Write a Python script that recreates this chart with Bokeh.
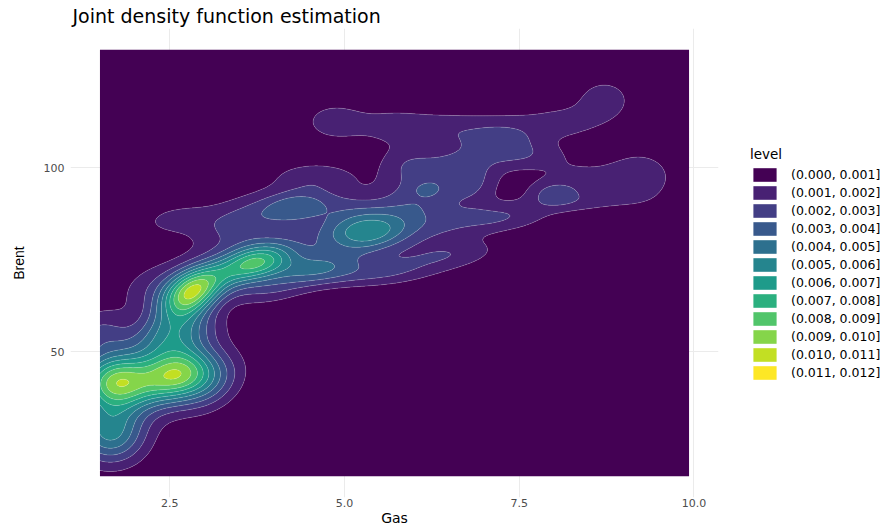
import numpy as np
from bokeh.plotting import figure
from bokeh.layouts import row
from bokeh.models import Legend, LegendItem, FixedTicker, NumeralTickFormatter, Range1d
from bokeh.embed import file_html
from bokeh.resources import INLINE

# ---- data ----
title_text = "Joint density function estimation"
x_label = "Gas"
y_label = "Brent"
x_ticks = [2.5, 5.0, 7.5, 10.0]
y_ticks = [50, 100]

gas_extent = [1.5, 9.93]      # extent of the estimated density grid (Gas)
brent_extent = [16.3, 132.0]  # extent of the estimated density grid (Brent)

level_breaks = [0.000, 0.001, 0.002, 0.003, 0.004, 0.005, 0.006,
                0.007, 0.008, 0.009, 0.010, 0.011, 0.012]
level_labels = ["(0.000, 0.001]", "(0.001, 0.002]", "(0.002, 0.003]",
                "(0.003, 0.004]", "(0.004, 0.005]", "(0.005, 0.006]",
                "(0.006, 0.007]", "(0.007, 0.008]", "(0.008, 0.009]",
                "(0.009, 0.010]", "(0.010, 0.011]", "(0.011, 0.012]"]
level_colors = ["#440154", "#482173", "#433E85", "#38598C", "#2D708E",
                "#25858E", "#1E9B8A", "#2BB07F", "#51C56A", "#85D54A",
                "#C2DF23", "#FDE725"]

# density bumps: centre, spreads, tilt and height
comp_gas = [1.72, 2.62, 2.15, 1.65, 2.55, 1.50, 2.80, 3.30, 3.76, 2.30, 2.60, 3.50,
            3.10, 3.90,
            4.30, 4.60, 5.32, 4.60, 5.55, 6.00, 6.55, 6.18, 6.50, 6.90,
            4.50, 5.00, 5.85, 6.50,
            7.30, 7.50, 7.25, 7.98, 8.40, 9.25, 8.30,
            4.85, 5.65, 6.45, 7.35, 8.20, 8.72]
comp_brent = [42.0, 44.0, 42.0, 28.0, 55.0, 55.0, 66.0, 71.0, 74.5, 68.0, 86.0, 85.0,
              41.0, 66.5,
              89.5, 72.5, 82.6, 97.5, 71.5, 90.0, 99.0, 94.0, 76.5, 95.0,
              80.0, 90.0, 101.5, 84.5,
              86.5, 103.5, 107.5, 93.0, 96.0, 97.5, 90.5,
              112.5, 111.5, 110.5, 110.5, 112.5, 118.5]
comp_sd_gas = [0.35, 0.36, 0.70, 0.35, 0.40, 0.30, 0.30, 0.35, 0.35, 0.40, 0.40, 0.45,
               0.30, 0.40,
               0.35, 0.45, 0.42, 0.45, 0.55, 0.45, 0.45, 0.10, 0.50, 0.22,
               0.60, 0.35, 0.30, 0.45,
               0.45, 0.45, 0.30, 0.25, 0.50, 0.33, 0.60,
               0.30, 0.40, 0.45, 0.45, 0.40, 0.28]
comp_sd_brent = [5.0, 4.8, 7.0, 5.8, 5.0, 4.5, 4.8, 4.0, 3.6, 5.0, 3.2, 5.5,
                 5.0, 3.0,
                 3.2, 3.2, 4.0, 3.0, 2.8, 6.0, 5.5, 1.0, 3.0, 4.5,
                 6.0, 3.0, 3.5, 3.5,
                 2.8, 2.8, 2.2, 2.3, 4.5, 5.0, 2.0,
                 3.5, 3.5, 3.5, 3.5, 3.5, 4.0]
comp_tilt = [0.0, 0.2, 0.3, 0.0, 0.3, 0.0, 0.4, 0.4, 0.3, 0.3, 0.2, 0.4,
             0.3, 0.3,
             0.2, 0.3, 0.1, 0.0, 0.3, 0.2, 0.2, 0.0, 0.3, 0.0,
             0.3, 0.0, 0.0, 0.3,
             0.2, 0.0, 0.0, 0.0, 0.0, 0.0, 0.2,
             0.0, 0.0, 0.0, 0.0, 0.0, 0.0]
comp_height = [0.0068, 0.0070, 0.0030, 0.0050, 0.0045, 0.0020, 0.0088, 0.0028, 0.0062,
               0.0015, 0.0013, 0.0022,
               0.0018, 0.0014,
               0.0030, 0.0032, 0.0048, 0.0016, 0.0019, 0.0022, 0.0020, 0.0008, 0.0017,
               0.0009,
               0.0016, 0.0010, 0.0012, 0.0012,
               0.0017, 0.0017, 0.0010, 0.0016, 0.0013, 0.0016, 0.0008,
               0.0016, 0.0013, 0.0013, 0.0013, 0.0012, 0.0016]

# ---- density grid ----
gx = np.linspace(gas_extent[0], gas_extent[1], 400)
gy = np.linspace(brent_extent[0], brent_extent[1], 400)
X, Y = np.meshgrid(gx, gy)
Z = np.zeros_like(X)
for cx, cy, sx, sy, r, h in zip(comp_gas, comp_brent, comp_sd_gas, comp_sd_brent,
                                comp_tilt, comp_height):
    dx = (X - cx) / sx
    dy = (Y - cy) / sy
    q = (dx * dx - 2 * r * dx * dy + dy * dy) / (1 - r * r)
    Z += h * np.exp(-0.5 * q)
Z = np.clip(Z, 1e-7, level_breaks[-1] - 1e-7)

# ---- main figure ----
xpad = 0.05 * (gas_extent[1] - gas_extent[0])
ypad = 0.05 * (brent_extent[1] - brent_extent[0])
p = figure(width=730, height=528, output_backend="svg", toolbar_location=None,
           x_range=Range1d(gas_extent[0] - xpad, gas_extent[1] + xpad),
           y_range=Range1d(brent_extent[0] - ypad, brent_extent[1] + ypad),
           min_border_left=70, min_border_right=12, min_border_top=28,
           min_border_bottom=28, outline_line_color=None,
           background_fill_color="white", border_fill_color="white")

p.contour(gx, gy, Z, level_breaks, fill_color=level_colors,
          line_color="white", line_alpha=0.3, line_width=0.6)

p.title.text = title_text
p.title.text_font = "DejaVu Sans"
p.title.text_font_size = "19px"
p.title.text_font_style = "normal"
p.title.text_color = "black"
p.title.align = "left"
p.title.offset = 2
p.title.standoff = 3

p.xaxis.ticker = FixedTicker(ticks=x_ticks)
p.yaxis.ticker = FixedTicker(ticks=y_ticks)
p.xaxis.formatter = NumeralTickFormatter(format="0.0")
p.xaxis.axis_label = x_label
p.yaxis.axis_label = y_label
for ax in (p.xaxis, p.yaxis):
    ax.axis_line_color = None
    ax.major_tick_line_color = None
    ax.minor_tick_line_color = None
    ax.major_tick_out = 0
    ax.major_tick_in = 0
    ax.major_label_text_font = "DejaVu Sans"
    ax.major_label_text_font_size = "11px"
    ax.major_label_text_color = "#4d4d4d"
    ax.axis_label_text_font = "DejaVu Sans"
    ax.axis_label_text_font_style = "normal"
    ax.axis_label_text_color = "black"
p.xaxis.major_label_standoff = 1
p.xaxis.axis_label_standoff = 0
p.xaxis.axis_label_text_font_size = "14px"
p.yaxis.major_label_standoff = 6
p.yaxis.axis_label_text_font = "Liberation Sans"
p.yaxis.axis_label_text_font_size = "14px"
p.yaxis.axis_label_standoff = 14

p.grid.grid_line_color = "#ebebeb"
p.grid.grid_line_width = 1
p.grid.minor_grid_line_color = None

# ---- legend panel ----
lg = figure(width=163, height=528, output_backend="svg", toolbar_location=None,
            x_range=Range1d(0, 1), y_range=Range1d(0, 1),
            x_axis_location=None, y_axis_location=None,
            min_border_left=0, min_border_right=0, min_border_top=0,
            min_border_bottom=0, outline_line_color=None,
            background_fill_color="white", border_fill_color="white")
lg.grid.visible = False
items = []
for c, lab in zip(level_colors, level_labels):
    # keys only: the quad itself lies outside the visible range
    r = lg.quad(left=[5], right=[6], top=[6], bottom=[5], fill_color=c, line_color=None)
    items.append(LegendItem(label=lab, renderers=[r]))
legend = Legend(items=items, location=(20, 116), title="level",
                title_text_font="DejaVu Sans", title_text_font_size="13.5px",
                title_text_font_style="normal", title_text_color="black",
                title_standoff=4,
                label_text_font="DejaVu Sans", label_text_font_size="12.5px",
                label_text_color="black", label_standoff=12,
                glyph_width=29, glyph_height=17, label_height=17, spacing=1,
                padding=10, margin=0, border_line_color=None,
                background_fill_alpha=0)
lg.add_layout(legend)

layout = row(p, lg, spacing=0)
open("out.html", "w").write(file_html(layout, INLINE))
